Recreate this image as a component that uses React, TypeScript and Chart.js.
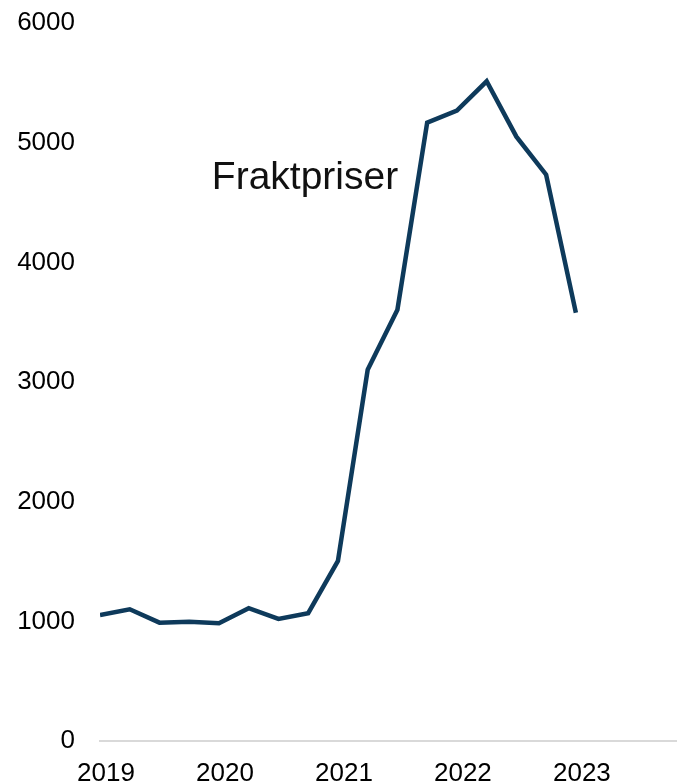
import React, { useEffect, useRef } from "react";
import { Chart, registerables } from "chart.js";

Chart.register(...registerables);

const yearLabels = ["2019", "2020", "2021", "2022", "2023"];
const prices = [
  1053, 1101, 989, 997, 984, 1110, 1020, 1068, 1505, 3102, 3604, 5167, 5268,
  5513, 5050, 4732, 3579,
];
const annotationText = "Fraktpriser";
const annotationAt = { x: 3.76, y: 4615 };

const FONT = "'Liberation Sans', Arial, sans-serif";

export default function App() {
  const ref = useRef<HTMLCanvasElement | null>(null);

  useEffect(() => {
    if (!ref.current) return;
    const labelPlugin = {
      id: "annotationLabel",
      afterDraw(chart: any) {
        const { ctx, scales } = chart;
        const px = scales.x.getPixelForValue(annotationAt.x);
        const py = scales.y.getPixelForValue(annotationAt.y);
        ctx.save();
        ctx.font = `39px ${FONT}`;
        ctx.fillStyle = "#111111";
        ctx.textAlign = "left";
        ctx.textBaseline = "alphabetic";
        ctx.fillText(annotationText, px, py);
        ctx.restore();
      },
    };
    const chart = new Chart(ref.current, {
      type: "line",
      data: {
        datasets: [
          {
            data: prices.map((v, i) => ({ x: i, y: v })),
            borderColor: "#0e3a5b",
            borderWidth: 4.5,
            pointRadius: 0,
            tension: 0,
            fill: false,
          },
        ],
      },
      options: {
        animation: false,
        responsive: false,
        layout: { padding: { top: 23, right: 0, left: 0, bottom: 0 } },
        plugins: {
          legend: { display: false },
          tooltip: { enabled: false },
        },
        scales: {
          x: {
            type: "linear",
            min: 0,
            max: 19.4,
            afterFit: (s: any) => {
              s.height = 59;
              s.paddingLeft = 0;
              s.paddingRight = 0;
            },
            grid: { display: false, drawTicks: false },
            border: { display: true, color: "#d9d9d9", width: 2 },
            ticks: {
              stepSize: 4,
              autoSkip: false,
              maxRotation: 0,
              padding: 17,
              labelOffset: 6,
              color: "#000000",
              font: { family: FONT, size: 26 },
              callback: (v: any) => {
                const n = Number(v);
                if (Number.isInteger(n) && n % 4 === 0) return yearLabels[n / 4] ?? "";
                return "";
              },
            },
          },
          y: {
            min: 0,
            max: 6000,
            afterFit: (s: any) => {
              s.width = 100;
              s.paddingTop = 0;
              s.paddingBottom = 0;
            },
            grid: { display: false, drawTicks: false },
            border: { display: false },
            ticks: {
              stepSize: 1000,
              padding: 25,
              color: "#000000",
              font: { family: FONT, size: 26 },
              callback: (v: any) => String(v),
            },
          },
        },
      },
      plugins: [labelPlugin],
    });
    return () => chart.destroy();
  }, []);

  return (
    <div
      style={{
        position: "fixed",
        left: 0,
        top: 0,
        width: 677,
        height: 781,
        overflow: "hidden",
        background: "#ffffff",
      }}
    >
      <canvas ref={ref} width={677} height={800} style={{ display: "block" }} />
    </div>
  );
}
